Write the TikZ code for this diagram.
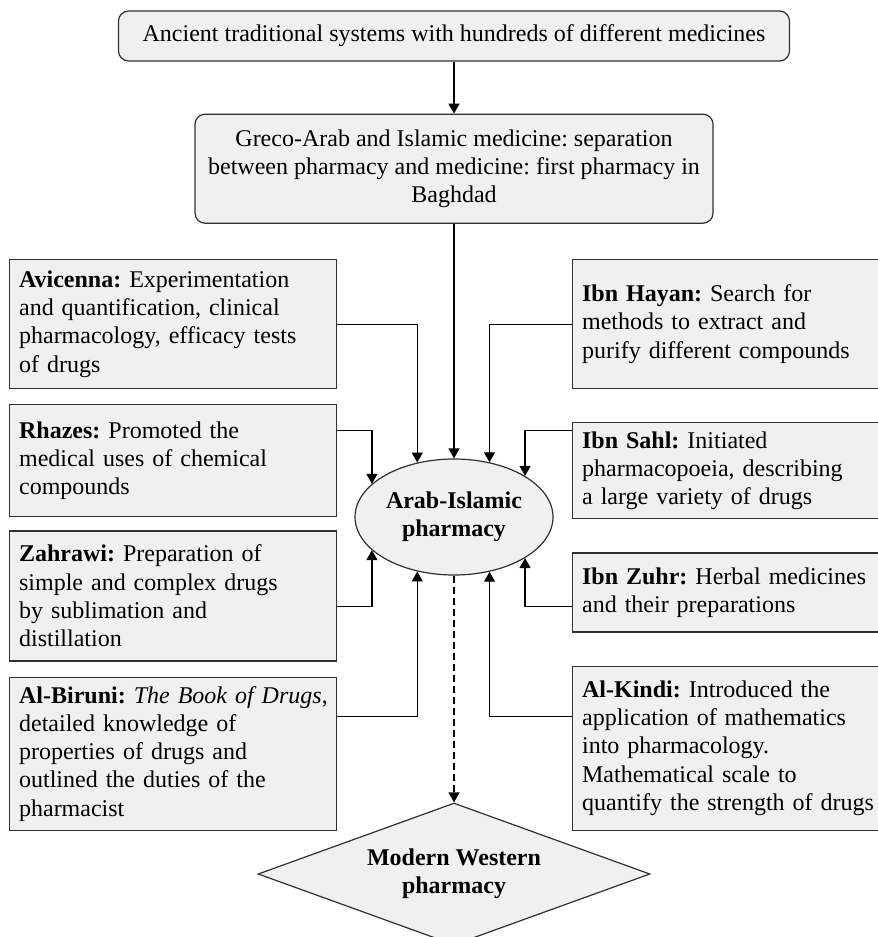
\documentclass[tikz,border=0pt]{standalone}
\usepackage{fontspec}
\setmainfont{Liberation Serif}
\usepackage{tikz}
\usetikzlibrary{positioning, shapes, shapes.geometric, arrows.meta, calc}
\usepackage{xcolor}
\definecolor{boxgray}{HTML}{F0F0F0}
\definecolor{linegray}{HTML}{303030}
\frenchspacing

\begin{document}
\begin{tikzpicture}[
    every node/.style={font=\fontsize{12}{14.15}\selectfont},
    topbox/.style={draw=linegray, fill=boxgray, rounded corners=5pt, align=center, inner sep=0pt, line width=0.6pt},
    box/.style={draw=linegray, fill=boxgray, text width=154pt, inner xsep=4.75pt, inner ysep=0pt, align=left, line width=0.6pt},
    hub/.style={ellipse, draw=linegray, fill=boxgray, minimum width=99pt, minimum height=58pt, inner sep=0pt, align=center, line width=0.6pt},
    goal/.style={diamond, aspect=2.76, draw=linegray, fill=boxgray, minimum width=196pt, minimum height=71pt, inner sep=0pt, align=center, line width=0.6pt},
    arrow/.style={-{Triangle[length=5pt, width=5.5pt]}, line width=0.6pt}
]
\useasboundingbox (0,0) rectangle (439pt,-468.5pt);

% Components
\node[topbox, minimum width=335.5pt, minimum height=25pt] (ancient) at (227pt,-18pt) {Ancient traditional systems with hundreds of different medicines};
\node[topbox, minimum width=259pt, minimum height=54.5pt, below=26pt of ancient] (greco) {Greco-Arab and Islamic medicine: separation\\ between pharmacy and medicine: first pharmacy in\\ Baghdad};

% Hub and outcome
\node[hub] (arab) at (227pt,-258.5pt) {\textbf{Arab-Islamic}\\ \textbf{pharmacy}};
\node[goal] (western) at (227pt,-437pt) {\textbf{Modern Western}\\ \textbf{pharmacy}};

% Scholars, left column
\node[box, minimum height=64.5pt, anchor=north west] (avicenna) at (4.5pt,-129.5pt) {\textbf{Avicenna:} Experimentation\\ and quantification, clinical\\ pharmacology, efficacy tests\\ of drugs};
\node[box, minimum height=56pt, below=7.5pt of avicenna] (rhazes) {\textbf{Rhazes:} Promoted the\\ medical uses of chemical\\ compounds};
\node[box, minimum height=65pt, below=6.5pt of rhazes] (zahrawi) {\textbf{Zahrawi:} Preparation of\\ simple and complex drugs\\ by sublimation and\\ distillation};
\node[box, minimum height=76.5pt, below=7.5pt of zahrawi] (biruni) {\mbox{\textbf{Al-Biruni:} \textit{The Book of Drugs},}\\ detailed knowledge of\\ properties of drugs and\\ outlined the duties of the\\ pharmacist};

% Scholars, right column
\node[box, minimum height=64.5pt, anchor=north west] (hayan) at (286pt,-129.5pt) {\textbf{Ibn Hayan:} Search for\\ methods to extract and\\ purify different compounds};
\node[box, minimum height=48pt, below=16.5pt of hayan] (sahl) {\textbf{Ibn Sahl:} Initiated\\ pharmacopoeia, describing\\ a large variety of drugs};
\node[box, minimum height=39.5pt, below=16.5pt of sahl] (zuhr) {\textbf{Ibn Zuhr:} Herbal medicines\\ and their preparations};
\node[box, minimum height=82pt, below=16.5pt of zuhr] (kindi) {\textbf{Al-Kindi:} Introduced the\\ application of mathematics\\ into pharmacology.\\ Mathematical scale to\\ quantify the strength of drugs};

% Connections
\draw[arrow] (ancient) -- (greco);
\draw[arrow] (greco) -- (arab);
\draw[arrow] (avicenna.east) -| (arab.124);
\draw[arrow] ([yshift=-13pt]rhazes.north east) -| (arab.158);
\draw[arrow] ([yshift=-38pt]zahrawi.north east) -| (arab.202);
\draw[arrow] ([yshift=-20pt]biruni.north east) -| (arab.236);
\draw[arrow] (hayan.west) -| (arab.57);
\draw[arrow] ([yshift=-4pt]sahl.north west) -| (arab.30);
\draw[arrow] ([yshift=-27pt]zuhr.north west) -| (arab.-30);
\draw[arrow] ([yshift=-25.5pt]kindi.north west) -| (arab.-57);
\draw[arrow, dash pattern=on 3.5pt off 2pt] (arab) -- (western);

\end{tikzpicture}
\end{document}
